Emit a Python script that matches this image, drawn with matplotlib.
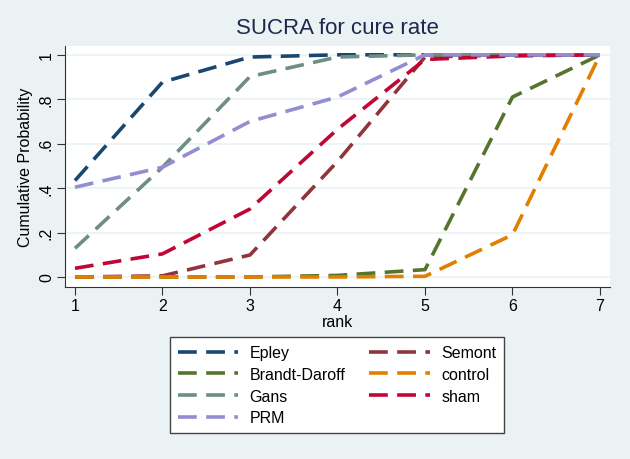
import matplotlib.pyplot as plt

plt.rcParams['font.family'] = ['Liberation Sans', 'DejaVu Sans']

rank = [1, 2, 3, 4, 5, 6, 7]

epley = [0.434, 0.877, 0.99, 1.0, 1.0, 1.0, 1.0]
semont = [0.0, 0.005, 0.099, 0.52, 0.99, 1.0, 1.0]
brandt = [0.0, 0.0, 0.0, 0.007, 0.033, 0.81, 1.0]
control = [0.0, 0.0, 0.0, 0.0, 0.003, 0.19, 1.0]
gans = [0.129, 0.494, 0.902, 0.99, 1.0, 1.0, 1.0]
sham = [0.039, 0.104, 0.306, 0.665, 0.979, 0.995, 1.0]
prm = [0.404, 0.494, 0.70, 0.81, 1.0, 1.0, 1.0]

yticks = [0, 0.2, 0.4, 0.6, 0.8, 1.0]
ylabels = ['0', '.2', '.4', '.6', '.8', '1']

bg = '#eaf2f3'

fig = plt.figure(figsize=(6.3, 4.6), dpi=100, facecolor=bg)
ax = fig.add_axes([0.1032, 0.374, 0.865, 0.524])
ax.set_facecolor('white')

# plot order follows Stata default colours
series = [
    ('Epley', epley, '#1a476f'),
    ('Semont', semont, '#90353b'),
    ('Brandt-Daroff', brandt, '#55752f'),
    ('control', control, '#e37e00'),
    ('Gans', gans, '#6e8e84'),
    ('sham', sham, '#c10534'),
    ('PRM', prm, '#938dd2'),
]
lines = {}
for name, vals, col in series:
    ln, = ax.plot(rank, vals, color=col, lw=2.6, dashes=(5.2, 2.6), label=name)
    lines[name] = ln

ax.set_xlim(0.886, 7.114)
ax.set_ylim(-0.045, 1.04)
ax.set_xticks(rank)
ax.set_yticks(yticks)
ax.set_yticklabels(ylabels, rotation=90, va='center')
ax.tick_params(labelsize=11.5, length=6, pad=2, color='#333333')
ax.grid(axis='y', color=bg, lw=1.2)
ax.set_axisbelow(True)
for s in ['top', 'right']:
    ax.spines[s].set_visible(False)
for s in ['left', 'bottom']:
    ax.spines[s].set_color('#333333')

ax.set_xlabel('rank', fontsize=11.5, labelpad=1)
ax.set_ylabel('Cumulative Probability', fontsize=11.5, labelpad=4)
ax.set_title('SUCRA for cure rate', fontsize=16, color='#1e2850', pad=9)

order = ['Epley', 'Brandt-Daroff', 'Gans', 'PRM', 'Semont', 'control', 'sham']
leg = fig.legend([lines[n] for n in order], order, ncol=2, loc='center',
                 bbox_to_anchor=(0.535, 0.16), fontsize=11.5, handlelength=3.8,
                 frameon=True, fancybox=False, framealpha=1, columnspacing=1.5,
                 labelspacing=0.42, handletextpad=0.7, borderpad=0.5)
leg.get_frame().set_edgecolor('#444444')
leg.get_frame().set_linewidth(1.0)

fig.savefig('out.png', dpi=100, facecolor=bg)
